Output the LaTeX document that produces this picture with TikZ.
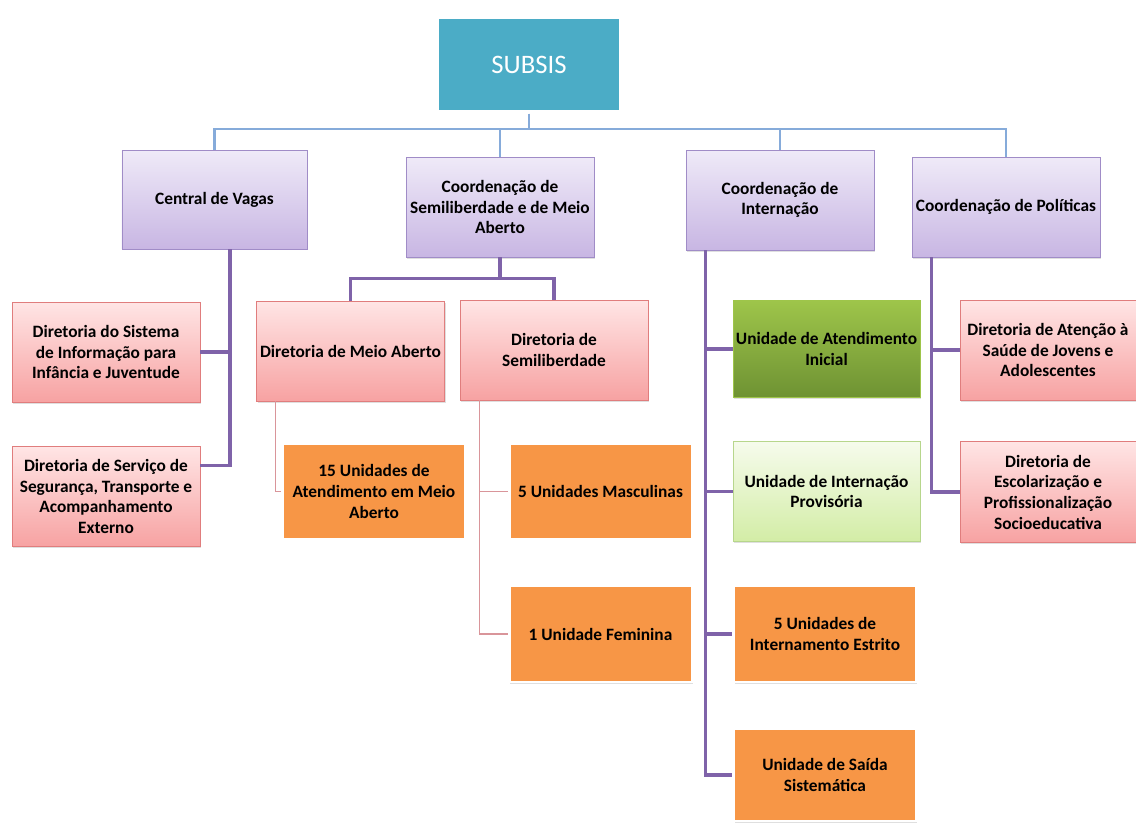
\documentclass[tikz,border=0pt]{standalone}
\usepackage{fontspec}
\setmainfont{Carlito}
\usepackage{tikz}
\usetikzlibrary{positioning,shadows}
\definecolor{subsisblue}{HTML}{4BACC6}
\definecolor{busblue}{HTML}{86ABDA}
\definecolor{orgpurple}{HTML}{7F63A9}
\definecolor{thinpink}{HTML}{D9959A}
\definecolor{lavtop}{HTML}{EFEAF8}
\definecolor{lavbot}{HTML}{C8B6E3}
\definecolor{lavborder}{HTML}{A08CC7}
\definecolor{pinktop}{HTML}{FFE5E5}
\definecolor{pinkbot}{HTML}{F7A2A2}
\definecolor{pinkborder}{HTML}{E07D7D}
\definecolor{unitorange}{HTML}{F79646}
\definecolor{greentop}{HTML}{9EC54A}
\definecolor{greenbot}{HTML}{6E9233}
\definecolor{lgreentop}{HTML}{F6FBEC}
\definecolor{lgreenbot}{HTML}{D3EDA6}
\definecolor{lgreenborder}{HTML}{B7D68C}
\tikzstyle{box} = [rectangle, align=center, inner sep=0pt, font=\bfseries\fontsize{13}{15.5}\selectfont,
  drop shadow={opacity=0.25, shadow xshift=0.8pt, shadow yshift=-1.2pt}]
\tikzstyle{topbox} = [box, fill=subsisblue, draw=white, line width=3pt, text=white,
  font=\fontsize{20}{24}\selectfont, minimum width=138pt, minimum height=71pt]
\tikzstyle{coordbox} = [box, draw=lavborder, top color=lavtop, bottom color=lavbot, minimum width=141pt, minimum height=75pt]
\tikzstyle{dirbox} = [box, draw=pinkborder, top color=pinktop, bottom color=pinkbot, minimum width=141pt, minimum height=75pt]
\tikzstyle{unitbox} = [box, fill=unitorange, draw=white, line width=2pt, minimum width=137pt, minimum height=72pt]
\tikzstyle{greenbox} = [box, draw=greentop, top color=greentop, bottom color=greenbot, minimum width=140pt, minimum height=73pt]
\tikzstyle{lightbox} = [box, draw=lgreenborder, top color=lgreentop, bottom color=lgreenbot, minimum width=140pt, minimum height=75pt]
\tikzstyle{busline} = [busblue, line width=2.2pt]
\tikzstyle{orgline} = [orgpurple, line width=2.4pt]
\tikzstyle{thinline} = [thinpink, line width=0.8pt]

\begin{document}
\begin{tikzpicture}[x=0.75pt,y=-0.75pt]
    \useasboundingbox (0,0) rectangle (1136,826);
    % top and coordinations
    \node[topbox] (subsis) at (529,64.5) {SUBSIS};
    \node[coordbox, minimum width=139pt, minimum height=74pt] (vagas) at (214.5,199.5) {Central de Vagas};
    \node[coordbox] (semi) at (500,207) {Coordenação de\\Semiliberdade e de Meio\\Aberto};
    \node[coordbox] (intern) at (780,200) {Coordenação de\\Internação};
    \node[coordbox] (polit) at (1006,207) {Coordenação de Políticas};
    % diretorias
    \node[dirbox] (sistema) at (106,352) {Diretoria do Sistema\\de Informação para\\Infância e Juventude};
    \node[dirbox] (servico) at (106,496.5) {Diretoria de Serviço de\\Segurança, Transporte e\\Acompanhamento\\Externo};
    \node[dirbox] (meio) at (350.5,351) {Diretoria de Meio Aberto};
    \node[dirbox] (semidir) at (554,350) {Diretoria de\\Semiliberdade};
    \node[dirbox, minimum width=132pt] (saude) at (1048,350) {Diretoria de Atenção à\\Saúde de Jovens e\\Adolescentes};
    \node[dirbox, minimum width=132pt, minimum height=76pt] (escola) at (1048,492) {Diretoria de\\Escolarização e\\Profissionalização\\Socioeducativa};
    % unidades
    \node[unitbox] (quinze) at (374,491.5) {15 Unidades de\\Atendimento em Meio\\Aberto};
    \node[unitbox] (masc) at (600.5,491.5) {5 Unidades Masculinas};
    \node[unitbox] (fem) at (600.5,634) {1 Unidade Feminina};
    \node[greenbox] (inicial) at (826.5,349) {Unidade de Atendimento\\Inicial};
    \node[lightbox] (provis) at (826.5,491.5) {Unidade de Internação\\Provisória};
    \node[unitbox] (estrito) at (825,634) {5 Unidades de\\Internamento Estrito};
    \node[unitbox, minimum height=69pt] (saida) at (825,775) {Unidade de Saída\\Sistemática};

    % connectors
    \coordinate (bus) at (529,129);
    \foreach \n in {vagas,semi,intern,polit}{
        \draw[busline] (subsis.south) -- (subsis.south |- bus) -| (\n.north);
    }
    \path (vagas.south) ++(15.5,0) coordinate (vagastrunk);
    \draw[orgline] (vagastrunk) |- (sistema.east);
    \draw[orgline] (vagastrunk) |- ([yshift=23pt]servico.east);
    \foreach \n in {meio,semidir}{
        \draw[orgline] (semi.south) -- ++(0,21) -| (\n.north);
    }
    \path (meio.south west) ++(19,0) coordinate (meiotrunk);
    \draw[thinline] (meiotrunk) |- (quinze.west);
    \path (semidir.south west) ++(20,0) coordinate (semitrunk);
    \foreach \n in {masc,fem}{
        \draw[thinline] (semitrunk) |- (\n.west);
    }
    \path (intern.south west) ++(20,0) coordinate (interntrunk);
    \foreach \n in {inicial,provis,estrito,saida}{
        \draw[orgline] (interntrunk) |- (\n.west);
    }
    \path (polit.south west) ++(20,0) coordinate (polittrunk);
    \foreach \n in {saude,escola}{
        \draw[orgline] (polittrunk) |- (\n.west);
    }
\end{tikzpicture}
\end{document}
